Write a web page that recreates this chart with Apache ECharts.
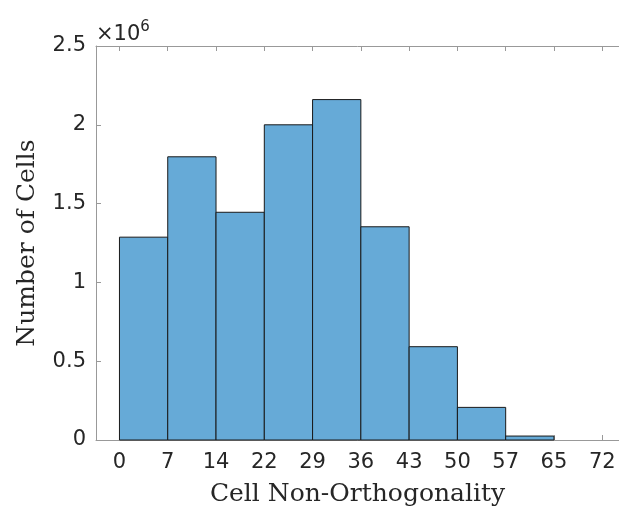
<!DOCTYPE html>
<html><head><meta charset="utf-8">
<script src="https://cdn.jsdelivr.net/npm/echarts@6/dist/echarts.min.js"></script>
<style>html,body{margin:0;padding:0;background:#fff}#c{width:619px;height:512px}</style>
</head><body><div id="c"></div>
<script>
const binEdges = [0, 7.2, 14.4, 21.6, 28.8, 36, 43.2, 50.4, 57.6, 64.8, 72];
const counts = [1287000, 1797000, 1445000, 2000000, 2160000, 1353000, 592000, 207000, 25000, 0];
const xTickValues = [0, 7.2, 14.4, 21.6, 28.8, 36, 43.2, 50.4, 57.6, 64.8, 72];
const xTickLabels = ["0", "7", "14", "22", "29", "36", "43", "50", "57", "65", "72"];
const yTickValues = [0, 500000, 1000000, 1500000, 2000000, 2500000];
const yTickLabels = ["0", "0.5", "1", "1.5", "2", "2.5"];

const data = counts.map((c, i) => [binEdges[i], binEdges[i + 1], c]);
const axisColor = '#999999';
const textColor = '#262626';
const chart = echarts.init(document.getElementById('c'), null, {renderer: 'canvas'});
chart.setOption({
  animation: false,
  grid: {left: 96, right: 0, top: 46, bottom: 65, containLabel: false},
  xAxis: [{
    type: 'value', min: -3.5, max: 74.5, position: 'bottom',
    axisLine: {show: true, onZero: false, lineStyle: {color: axisColor, width: 1}},
    axisTick: {show: true, inside: true, length: 5, customValues: xTickValues, lineStyle: {color: axisColor}},
    axisLabel: {customValues: xTickValues, color: textColor, fontFamily: 'DejaVu Sans', fontSize: 21, margin: 12,
      formatter: v => { const i = xTickValues.findIndex(t => Math.abs(t - v) < 1e-6); return i >= 0 ? xTickLabels[i] : ''; }},
    splitLine: {show: false},
    name: 'Cell Non-Orthogonality', nameLocation: 'middle', nameGap: 42,
    nameTextStyle: {color: textColor, fontFamily: 'DejaVu Serif', fontSize: 25}
  }, {
    type: 'value', min: -3.5, max: 74.5, position: 'top',
    axisLine: {show: true, onZero: false, lineStyle: {color: axisColor, width: 1}},
    axisTick: {show: true, inside: true, length: 5, customValues: xTickValues, lineStyle: {color: axisColor}},
    axisLabel: {show: false}, splitLine: {show: false}
  }],
  yAxis: {
    type: 'value', min: 0, max: 2500000, interval: 500000,
    axisLine: {show: true, onZero: false, lineStyle: {color: axisColor, width: 1}},
    axisTick: {show: true, inside: true, length: 5, lineStyle: {color: axisColor}},
    axisLabel: {color: textColor, fontFamily: 'DejaVu Sans', fontSize: 21, margin: 10,
      formatter: v => { const i = yTickValues.indexOf(v); return i >= 0 ? yTickLabels[i] : ''; }},
    splitLine: {show: false},
    name: 'Number of Cells', nameLocation: 'middle', nameGap: 56,
    nameTextStyle: {color: textColor, fontFamily: 'DejaVu Serif', fontSize: 25}
  },
  series: [{
    type: 'custom', xAxisIndex: 0,
    renderItem: (params, api) => {
      if (!(api.value(2) > 0)) return null;
      const p0 = api.coord([api.value(0), 0]);
      const p1 = api.coord([api.value(1), api.value(2)]);
      return {type: 'rect', shape: {x: p0[0], y: p1[1], width: p1[0] - p0[0], height: p0[1] - p1[1]},
        style: {fill: '#66aad7', stroke: '#1a1a1a', lineWidth: 1}};
    },
    encode: {x: [0, 1], y: 2},
    data: data
  }],
  graphic: [{
    type: 'text', left: 96, top: 20,
    style: {text: '{a|×10}{b|6}', rich: {
      a: {fontFamily: 'DejaVu Sans', fontSize: 21, fill: textColor, verticalAlign: 'bottom'},
      b: {fontFamily: 'DejaVu Sans', fontSize: 15, fill: textColor, verticalAlign: 'top', padding: [0,0,10,0]}
    }}
  }]
});
</script></body></html>
